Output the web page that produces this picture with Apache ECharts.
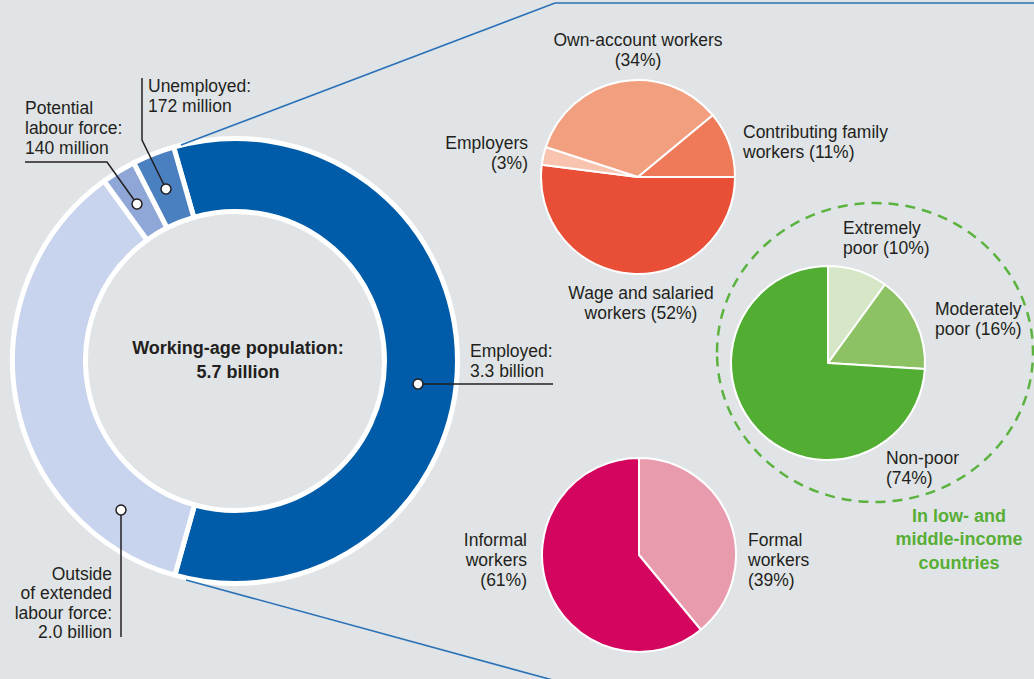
<!DOCTYPE html>
<html>
<head>
<meta charset="utf-8">
<script src="https://cdn.jsdelivr.net/npm/echarts@6/dist/echarts.min.js"></script>
<style>
html,body{margin:0;padding:0;background:#e1e4e6;}
#chart{width:1034px;height:679px;}
</style>
</head>
<body>
<div id="chart"></div>
<script>
// ---- Data ----
const populationNames = ['Employed', 'Outside of extended labour force', 'Potential labour force', 'Unemployed'];
const populationValues = [3300, 2000, 140, 172]; // millions
const populationLabels = ['Employed:\n3.3 billion', 'Outside\nof extended\nlabour force:\n2.0 billion', 'Potential\nlabour force:\n140 million', 'Unemployed:\n172 million'];
const populationTotalLabel = 'Working-age population:\n5.7 billion';

const statusNames = ['Wage and salaried workers', 'Employers', 'Own-account workers', 'Contributing family workers'];
const statusValues = [52, 3, 34, 11];
const statusLabels = ['Wage and salaried\nworkers (52%)', 'Employers\n(3%)', 'Own-account workers\n(34%)', 'Contributing family\nworkers (11%)'];

const povertyNames = ['Extremely poor', 'Moderately poor', 'Non-poor'];
const povertyValues = [10, 16, 74];
const povertyLabels = ['Extremely\npoor (10%)', 'Moderately\npoor (16%)', 'Non-poor\n(74%)'];
const povertyNote = 'In low- and\nmiddle-income\ncountries';

const formalityNames = ['Formal workers', 'Informal workers'];
const formalityValues = [39, 61];
const formalityLabels = ['Formal\nworkers\n(39%)', 'Informal\nworkers\n(61%)'];

// ---- Styles ----
const populationColors = ['#005ca8', '#c8d3ed', '#8fa7d7', '#4a7fc0'];
const statusColors = ['#e84f36', '#f8c4b0', '#f29f7f', '#ee7a59'];
const povertyColors = ['#d6e7c7', '#8cc164', '#52ad33'];
const formalityColors = ['#e99bae', '#d4055f'];
const TXT = '#231f20';
const FONT = '17.5px "Liberation Sans", Arial, sans-serif';
const BOLD = 'bold 18px "Liberation Sans", Arial, sans-serif';
const BLUE = '#2a71b7';
const GREEN = '#57ae36';

function mk(names, values, colors) {
  return names.map((n, i) => ({ name: n, value: values[i], itemStyle: { color: colors[i] } }));
}

const pieBase = {
  type: 'pie', silent: true, animation: false, clockwise: true,
  label: { show: false }, labelLine: { show: false },
  avoidLabelOverlap: false, z: 2
};

function text(str, x, y, align, opts) {
  opts = opts || {};
  return {
    type: 'text', z: 20, silent: true,
    style: {
      text: str, x: x, y: y, fill: opts.fill || TXT, font: opts.font || FONT,
      align: align, verticalAlign: 'middle', lineHeight: opts.lh || 19.6
    }
  };
}
function poly(points, color, width, z) {
  return { type: 'polyline', z: z || 15, silent: true, shape: { points: points },
    style: { stroke: color || TXT, lineWidth: width || 1.5, fill: null } };
}
function dot(x, y) {
  return { type: 'circle', z: 21, silent: true, shape: { cx: x, cy: y, r: 5 },
    style: { fill: '#ffffff', stroke: TXT, lineWidth: 1.5 } };
}

const chart = echarts.init(document.getElementById('chart'), null, { renderer: 'svg' });
chart.setOption({
  backgroundColor: '#e1e4e6',
  series: [
    Object.assign({}, pieBase, {
      center: [235, 361], radius: [149.5, 222.5], startAngle: 106,
      itemStyle: { borderColor: '#ffffff', borderWidth: 5 },
      data: mk(populationNames, populationValues, populationColors)
    }),
    Object.assign({}, pieBase, {
      center: [638, 177], radius: 97, startAngle: 0,
      itemStyle: { borderColor: '#ffffff', borderWidth: 2 },
      data: mk(statusNames, statusValues, statusColors)
    }),
    Object.assign({}, pieBase, {
      center: [828, 363], radius: 97, startAngle: 90,
      itemStyle: { borderColor: '#ffffff', borderWidth: 2 },
      data: mk(povertyNames, povertyValues, povertyColors)
    }),
    Object.assign({}, pieBase, {
      center: [639, 555], radius: 97, startAngle: 90,
      itemStyle: { borderColor: '#ffffff', borderWidth: 2 },
      data: mk(formalityNames, formalityValues, formalityColors)
    })
  ],
  graphic: [
    // connector lines to the employment breakdown
    poly([[181, 145], [555, 3], [1040, 3]], BLUE, 1.6, 5),
    poly([[186, 580], [560, 682]], BLUE, 1.6, 5),
    // dashed region for low- and middle-income countries
    { type: 'ellipse', z: 1, silent: true, shape: { cx: 875, cy: 352.5, rx: 158, ry: 149.5 },
      style: { fill: null, stroke: '#5cb23e', lineWidth: 2.5, lineDash: [10, 7] } },
    // donut annotations
    poly([[418, 384], [553, 384]]),
    dot(418, 384),
    text(populationLabels[0], 470, 361, 'left'),
    poly([[121, 510], [121, 637]]),
    dot(121, 510),
    text(populationLabels[1], 112, 603, 'right'),
    poly([[137, 204], [107, 162], [25, 162]]),
    dot(137, 204),
    text(populationLabels[2], 25, 128, 'left'),
    poly([[166, 189], [142, 140], [142, 78]]),
    dot(166, 189),
    text(populationLabels[3], 148, 96, 'left'),
    text(populationTotalLabel, 238, 360, 'center', { font: BOLD, lh: 24 }),
    // status in employment
    text(statusLabels[2], 638, 50, 'center'),
    text(statusLabels[3], 743, 142, 'left'),
    text(statusLabels[1], 528, 153, 'right'),
    text(statusLabels[0], 641, 303, 'center'),
    // poverty
    text(povertyLabels[0], 843, 238, 'left'),
    text(povertyLabels[1], 935, 319, 'left'),
    text(povertyLabels[2], 886, 468, 'left'),
    text(povertyNote, 959, 539, 'center', { font: BOLD, fill: GREEN, lh: 23.5 }),
    // formality
    text(formalityLabels[0], 748, 560, 'left'),
    text(formalityLabels[1], 527, 560, 'right')
  ]
});
</script>
</body>
</html>
